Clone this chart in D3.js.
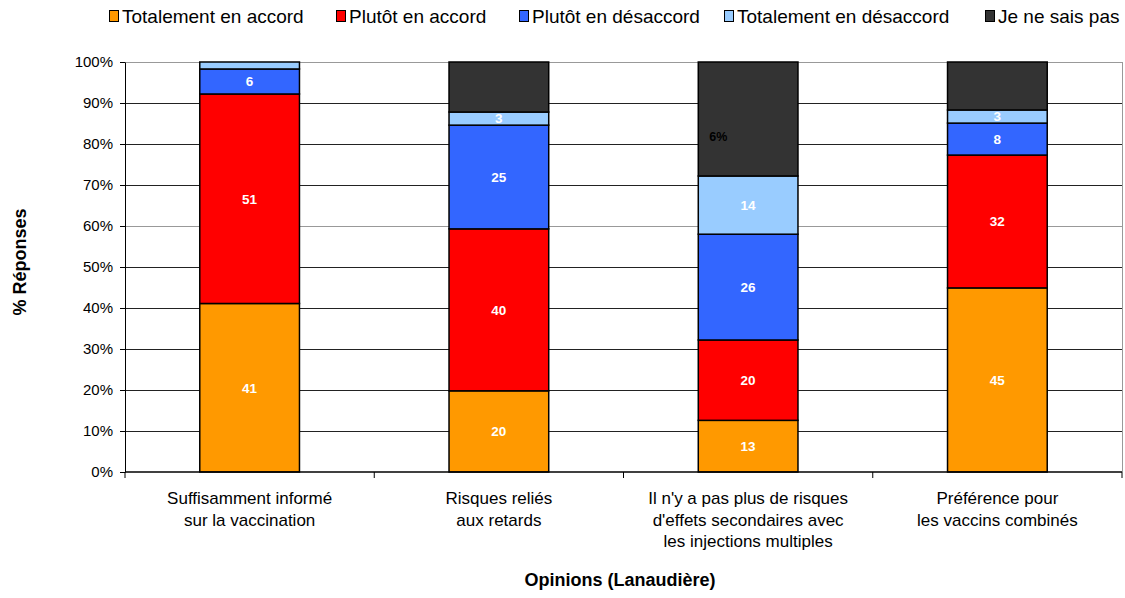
<!DOCTYPE html>
<html><head><meta charset="utf-8">
<script src="https://cdn.jsdelivr.net/npm/d3@7"></script>
<style>body{margin:0;background:#fff}svg{display:block;font-family:"Liberation Sans",Arial,sans-serif}</style>
</head><body><svg id="c" width="1125" height="598"></svg>
<script>
const categories = [
  ["Suffisamment informé", "sur la vaccination"],
  ["Risques reliés", "aux retards"],
  ["Il n'y a pas plus de risques", "d'effets secondaires avec", "les injections multiples"],
  ["Préférence pour", "les vaccins combinés"]
];
const seriesNames = ["Totalement en accord", "Plutôt en accord", "Plutôt en désaccord", "Totalement en désaccord", "Je ne sais pas"];
const totAccord   = [41.1, 19.8, 12.6, 44.9];
const ptAccord    = [51.1, 39.5, 19.6, 32.4];
const ptDesaccord = [6.1, 25.3, 25.8, 7.8];
const totDesaccord= [1.7, 3.2, 14.2, 3.2];
const neSaisPas   = [0, 12.2, 27.8, 11.7];
const yTicks = [0, 10, 20, 30, 40, 50, 60, 70, 80, 90, 100];
const extraLabel = {cat: 2, series: 4, text: "6%"};
const colors = ["#FF9900", "#FF0000", "#3366FF", "#99CCFF", "#333333"];

const seriesVals = [totAccord, ptAccord, ptDesaccord, totDesaccord, neSaisPas];
const svg = d3.select("#c");
const L = 125, R = 1122, T = 62, B = 472;
const x = d3.scaleBand().domain(d3.range(categories.length)).range([L, R]).paddingInner(0.6).paddingOuter(0.3);
const xb = d3.scaleBand().domain(d3.range(categories.length)).range([L, R]);
const y = d3.scaleLinear().domain([0, 100]).range([B, T]);

// gridlines
svg.append("g").selectAll("line").data(yTicks.filter(d => d > 0)).join("line")
  .attr("x1", L).attr("x2", R).attr("y1", d => y(d)).attr("y2", d => y(d))
  .attr("stroke", d => (d === 100 || d === 60) ? "#999" : "#222").attr("stroke-width", 1).attr("shape-rendering", "crispEdges");
svg.append("line").attr("x1", R).attr("x2", R).attr("y1", T).attr("y2", B)
  .attr("stroke", "#999").attr("shape-rendering", "crispEdges");

// stack
const table = categories.map((c, i) => {
  const o = {i};
  seriesVals.forEach((s, k) => o[k] = s[i]);
  return o;
});
const stack = d3.stack().keys(d3.range(seriesVals.length))(table);

const gBars = svg.append("g");
stack.forEach((layer, k) => {
  gBars.selectAll(null).data(layer.filter(d => d[1] - d[0] > 0)).join("rect")
    .attr("x", d => x(d.data.i)).attr("width", x.bandwidth())
    .attr("y", d => y(d[1])).attr("height", d => y(d[0]) - y(d[1]))
    .attr("fill", colors[k]).attr("stroke", "#000").attr("stroke-width", 1.5);
});
// labels
stack.forEach((layer, k) => {
  if (k === 4) return;
  gBars.selectAll(null).data(layer.filter(d => d[1] - d[0] >= 2.5)).join("text")
    .attr("x", d => x(d.data.i) + x.bandwidth() / 2)
    .attr("y", d => (y(d[0]) + y(d[1])) / 2)
    .attr("dy", "0.36em").attr("text-anchor", "middle")
    .attr("fill", "#fff").attr("font-weight", "bold").attr("font-size", 13.5)
    .text(d => Math.round(d[1] - d[0]));
});
{
  const d = stack[extraLabel.series][extraLabel.cat];
  gBars.append("text").attr("x", x(extraLabel.cat) + 11).attr("y", y(d[1]) + 72 * (y(d[0]) - y(d[1])) / 110)
    .attr("dy", "0.36em").attr("font-weight", "bold").attr("font-size", 12.5).attr("fill", "#000")
    .text(extraLabel.text);
}

// y axis
const yAxis = svg.append("g").attr("transform", `translate(${L},0)`)
  .call(d3.axisLeft(y).tickValues(yTicks).tickFormat(d => d + "%").tickSize(5).tickSizeOuter(0));
yAxis.select(".domain").attr("stroke", "#000");
yAxis.selectAll(".tick line").attr("stroke", "#000");
yAxis.selectAll("text").attr("font-size", 15).attr("fill", "#000").attr("x", -12).attr("font-family", "Liberation Sans, Arial, sans-serif");

// x axis
svg.append("line").attr("x1", L).attr("x2", R).attr("y1", B).attr("y2", B).attr("stroke", "#000").attr("stroke-width", 1.5);
const bounds = d3.range(categories.length + 1).map(i => i < categories.length ? xb(i) : R);
svg.append("g").selectAll("line").data(bounds).join("line")
  .attr("x1", d => d).attr("x2", d => d).attr("y1", B).attr("y2", B + 6).attr("stroke", "#000");
categories.forEach((lines, i) => {
  const t = svg.append("text").attr("text-anchor", "middle").attr("font-size", 17).attr("fill", "#000");
  lines.forEach((ln, j) => t.append("tspan").attr("x", xb(i) + xb.bandwidth() / 2).attr("y", 504 + j * 21.5).text(ln));
});

// titles
svg.append("text").attr("x", 620).attr("y", 586).attr("text-anchor", "middle")
  .attr("font-size", 18).attr("font-weight", "bold").text("Opinions (Lanaudière)");
svg.append("text").attr("transform", "translate(26,262) rotate(-90)").attr("text-anchor", "middle")
  .attr("font-size", 18).attr("font-weight", "bold").text("% Réponses");

// legend
const legX = [109, 336, 519, 724, 985];
seriesNames.forEach((n, k) => {
  const g = svg.append("g").attr("transform", `translate(${legX[k]},0)`);
  g.append("rect").attr("x", 0.5).attr("y", 10.5).attr("width", 9).attr("height", 11)
    .attr("fill", colors[k]).attr("stroke", "#000");
  g.append("text").attr("x", 13).attr("y", 23).attr("font-size", 19).attr("fill", "#000").text(n);
});
</script></body></html>
